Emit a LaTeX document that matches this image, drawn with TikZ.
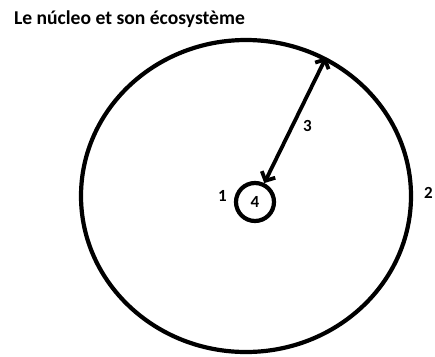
\documentclass[tikz,border=0pt]{standalone}
\usepackage{fontspec}
\setmainfont{Carlito}
\usetikzlibrary{positioning,shapes.geometric,arrows.meta}

\begin{document}
\begin{tikzpicture}[x=1pt, y=-1pt, line width=4.2pt,
    num/.style={font=\bfseries\fontsize{17}{17}\selectfont, inner sep=0pt},
    radius arrow/.style={{Straight Barb[length=7pt,width=15pt]}-{Straight Barb[length=7pt,width=15pt]}, line width=3.8pt}]
    \def\ecoWidth{330}
    \def\ecoHeight{312}

    \definecolor{lineColour}{HTML}{000000}

    % Page frame
    \useasboundingbox (0,0) rectangle (435,356);

    % Title
    \node[anchor=base west, inner sep=0pt, font=\bfseries\fontsize{19.6}{22}\selectfont] (title) at (12,24) {Le núcleo et son écosystème};

    % Draw ecosystem and nucleus
    \node[ellipse, draw=lineColour, minimum width=\ecoWidth pt, minimum height=\ecoHeight pt, inner sep=0pt] (eco) at (246,196) {};
    \node[circle, draw=lineColour, minimum size=38pt, inner sep=0pt] (nucleus) at (255,202) {};

    % Labels
    \node[num] (four) at (nucleus.center) {4};
    \node[num, left=5pt of nucleus.west, yshift=6pt] (one) {1};
    \node[num, right=9pt of eco.east, yshift=3pt] (two) {2};

    % Radius arrow
    \draw[radius arrow, lineColour] (nucleus) -- (eco.60) node[num, pos=0.45, right=9pt] (three) {3};

\end{tikzpicture}
\end{document}
